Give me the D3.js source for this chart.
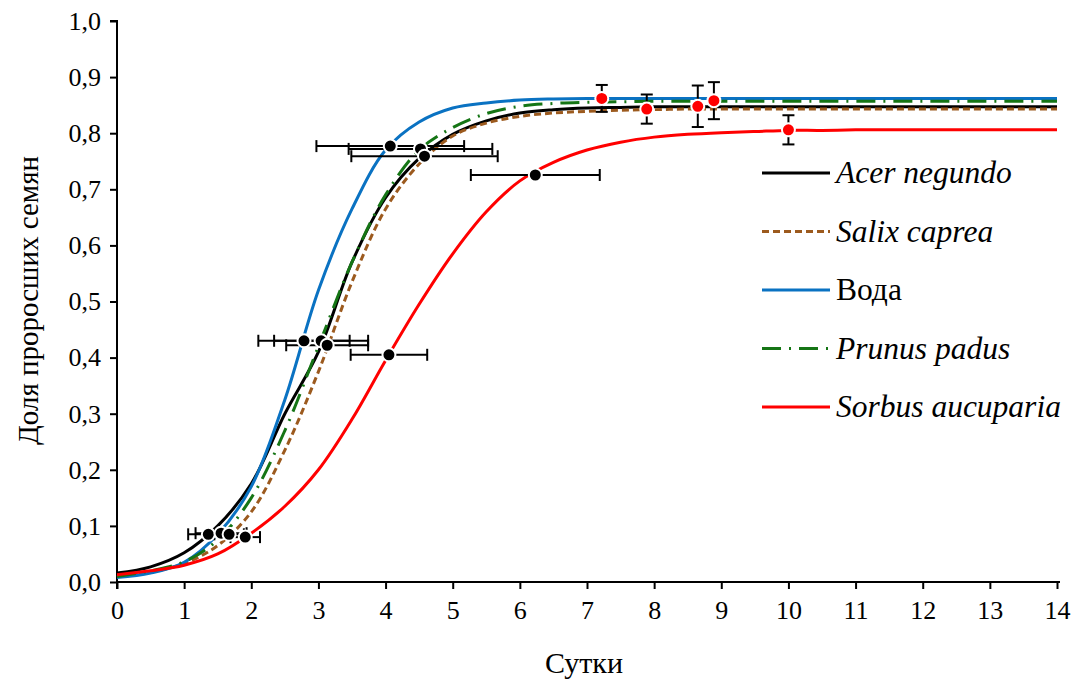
<!DOCTYPE html>
<html>
<head>
<meta charset="utf-8">
<script src="https://cdn.jsdelivr.net/npm/d3@7"></script>
<style>
  body { margin: 0; background: #fff; }
</style>
</head>
<body>
<div id="chart"></div>
<script>
// days of observation (x grid of the fitted curves)
const days = [0, 0.5, 1, 1.5, 2, 2.5, 3, 3.5, 4, 4.5, 5, 5.5, 6, 6.5, 7, 7.5, 8, 8.5, 9, 9.5, 10, 10.5, 11, 11.5, 12, 12.5, 13, 13.5, 14];

// fitted curves
const acerNegundo = [0.016, 0.027, 0.052, 0.100, 0.175, 0.300, 0.410, 0.570, 0.685, 0.755, 0.798, 0.822, 0.836, 0.842, 0.845, 0.846, 0.847, 0.847, 0.847, 0.847, 0.847, 0.847, 0.847, 0.847, 0.847, 0.847, 0.847, 0.847, 0.847];
const salixCaprea = [0.010, 0.018, 0.033, 0.065, 0.125, 0.235, 0.375, 0.535, 0.665, 0.745, 0.795, 0.818, 0.830, 0.836, 0.839, 0.841, 0.842, 0.843, 0.843, 0.843, 0.843, 0.843, 0.843, 0.843, 0.843, 0.843, 0.843, 0.843, 0.843];
const voda = [0.008, 0.016, 0.035, 0.085, 0.170, 0.325, 0.520, 0.665, 0.770, 0.820, 0.845, 0.854, 0.859, 0.861, 0.862, 0.862, 0.862, 0.862, 0.862, 0.862, 0.862, 0.862, 0.862, 0.862, 0.862, 0.862, 0.862, 0.862, 0.862];
const prunusPadus = [0.010, 0.020, 0.036, 0.075, 0.150, 0.270, 0.420, 0.570, 0.690, 0.770, 0.810, 0.835, 0.848, 0.853, 0.855, 0.856, 0.857, 0.857, 0.857, 0.857, 0.857, 0.857, 0.857, 0.857, 0.857, 0.857, 0.857, 0.857, 0.857];
const sorbusAucuparia = [0.013, 0.020, 0.030, 0.050, 0.087, 0.135, 0.200, 0.290, 0.395, 0.495, 0.585, 0.660, 0.715, 0.748, 0.770, 0.784, 0.793, 0.798, 0.801, 0.803, 0.805, 0.805, 0.806, 0.806, 0.806, 0.806, 0.806, 0.806, 0.806];

// observed points with horizontal error (black markers)
const pointX = [1.36, 1.55, 1.67, 1.91, 2.785, 3.04, 3.13, 4.05, 4.07, 4.52, 4.58, 6.23];
const pointY = [0.085, 0.087, 0.085, 0.080, 0.430, 0.430, 0.422, 0.405, 0.777, 0.772, 0.759, 0.7255];
const pointXErr = [0.30, 0.38, 0.22, 0.22, 0.68, 0.70, 0.61, 0.57, 1.10, 1.07, 1.09, 0.96];

// plateau points with vertical error (red markers)
const plateauX = [7.22, 7.89, 8.65, 8.89, 10];
const plateauY = [0.862, 0.843, 0.848, 0.858, 0.806];
const plateauYErr = [0.024, 0.026, 0.037, 0.033, 0.026];

const seriesNames = ["Acer negundo", "Salix caprea", "Вода", "Prunus padus", "Sorbus aucuparia"];
const seriesValues = [acerNegundo, salixCaprea, voda, prunusPadus, sorbusAucuparia];
const seriesColors = ["#000000", "#9c5a1e", "#0a72c2", "#157515", "#ff0000"];
const seriesDash = [null, "7,4", null, "19,8,2,8", null];
const seriesItalic = [true, true, false, true, true];

const xTicks = d3.range(0, 15, 1);
const yTicks = [0, 0.1, 0.2, 0.3, 0.4, 0.5, 0.6, 0.7, 0.8, 0.9, 1.0];

const FONT = "Liberation Serif";

const W = 1088, H = 682;
const margin = { top: 21, right: 31, bottom: 100, left: 117 };
const width = W - margin.left - margin.right;
const height = H - margin.top - margin.bottom;

const svg = d3.select("#chart").append("svg")
    .attr("width", W)
    .attr("height", H);

const g = svg.append("g")
    .attr("transform", `translate(${margin.left},${margin.top})`);

const x = d3.scaleLinear().domain([0, 14]).range([0, width]);
const y = d3.scaleLinear().domain([0, 1]).range([height, 0]);

const fmt = d => d3.format(".1f")(d).replace(".", ",");

// axes
const yAxis = g.append("g")
    .call(d3.axisLeft(y).tickValues(yTicks).tickFormat(fmt).tickSize(7).tickPadding(9));
const xAxis = g.append("g")
    .attr("transform", `translate(0,${height})`)
    .call(d3.axisBottom(x).tickValues(xTicks).tickFormat(d3.format("d")).tickSize(7).tickPadding(12));

[yAxis, xAxis].forEach(a => {
    a.attr("font-family", FONT).attr("font-size", 26);
    a.select(".domain").attr("stroke", "#000").attr("stroke-width", 2);
    a.selectAll(".tick line").attr("stroke", "#000").attr("stroke-width", 2);
    a.selectAll(".tick text").attr("fill", "#000").style("font-family", FONT);
});
yAxis.select(".domain").attr("d", `M-7,0H0V${height}`);
xAxis.select(".domain").attr("d", `M0,7V0H${width + 3}`);

// curves
const line = d3.line()
    .x((d, i) => x(days[i]))
    .y(d => y(d))
    .curve(d3.curveCatmullRom.alpha(0.5));

g.append("g").selectAll("path")
    .data(seriesValues)
    .join("path")
    .attr("d", d => line(d))
    .attr("fill", "none")
    .attr("stroke", (d, i) => seriesColors[i])
    .attr("stroke-width", 3)
    .attr("stroke-dasharray", (d, i) => seriesDash[i]);

// horizontal error bars
const pts = pointX.map((v, i) => ({ x: v, y: pointY[i], e: pointXErr[i] }));
const eb = g.append("g").attr("stroke", "#000").attr("stroke-width", 2);
pts.forEach(p => {
    const x0 = x(p.x - p.e), x1 = x(p.x + p.e), yy = y(p.y);
    eb.append("line").attr("x1", x0).attr("x2", x1).attr("y1", yy).attr("y2", yy);
    eb.append("line").attr("x1", x0).attr("x2", x0).attr("y1", yy - 6).attr("y2", yy + 6);
    eb.append("line").attr("x1", x1).attr("x2", x1).attr("y1", yy - 6).attr("y2", yy + 6);
});

// vertical error bars
const plat = plateauX.map((v, i) => ({ x: v, y: plateauY[i], e: plateauYErr[i] }));
plat.forEach(p => {
    const y0 = y(p.y - p.e), y1 = y(p.y + p.e), xx = x(p.x);
    eb.append("line").attr("x1", xx).attr("x2", xx).attr("y1", y0).attr("y2", y1);
    eb.append("line").attr("x1", xx - 6).attr("x2", xx + 6).attr("y1", y0).attr("y2", y0);
    eb.append("line").attr("x1", xx - 6).attr("x2", xx + 6).attr("y1", y1).attr("y2", y1);
});

// markers
g.append("g").selectAll("circle.pt")
    .data(pts)
    .join("circle")
    .attr("cx", d => x(d.x))
    .attr("cy", d => y(d.y))
    .attr("r", 6.5)
    .attr("fill", "#000")
    .attr("stroke", "#fff")
    .attr("stroke-width", 2);

g.append("g").selectAll("circle.pl")
    .data(plat)
    .join("circle")
    .attr("cx", d => x(d.x))
    .attr("cy", d => y(d.y))
    .attr("r", 6.5)
    .attr("fill", "#ff0000")
    .attr("stroke", "#fff")
    .attr("stroke-width", 2);

// legend
const legend = svg.append("g").attr("transform", "translate(762,173)");
seriesNames.forEach((name, i) => {
    const row = legend.append("g").attr("transform", `translate(0,${i * 58.5})`);
    row.append("line")
        .attr("x1", 0).attr("x2", 68)
        .attr("stroke", seriesColors[i])
        .attr("stroke-width", 3)
        .attr("stroke-dasharray", seriesDash[i]);
    row.append("text")
        .attr("x", 74)
        .attr("y", 10)
        .style("font-family", FONT)
        .attr("font-size", 31.5)
        .attr("font-style", seriesItalic[i] ? "italic" : "normal")
        .text(name);
});

// axis titles
svg.append("text")
    .attr("transform", `translate(38,${margin.top + height / 2 - 1}) rotate(-90)`)
    .attr("text-anchor", "middle")
    .style("font-family", FONT)
    .attr("font-size", 29)
    .text("Доля проросших семян");

svg.append("text")
    .attr("x", margin.left + width / 2 - 3)
    .attr("y", 673)
    .attr("text-anchor", "middle")
    .style("font-family", FONT)
    .attr("font-size", 30)
    .text("Сутки");
</script>
</body>
</html>
